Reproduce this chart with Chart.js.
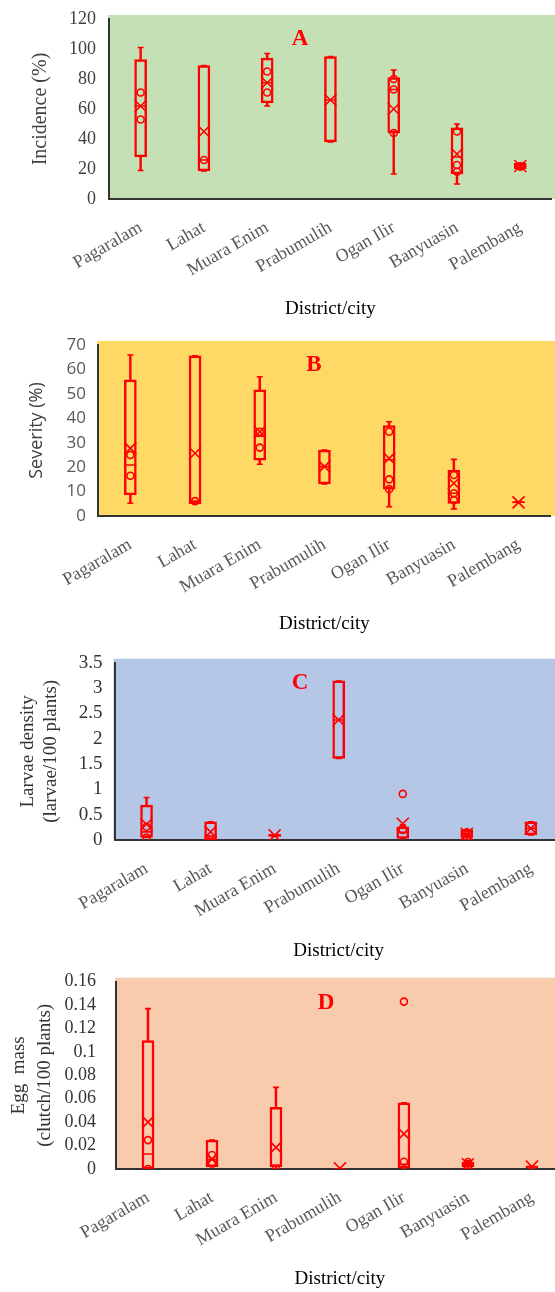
<!DOCTYPE html>
<html><head><meta charset="utf-8">
<script src="https://cdn.jsdelivr.net/npm/chart.js@4"></script>
<style>
html,body{margin:0;padding:0;background:#fff;overflow:hidden;width:555px;height:1292px;position:relative;}
.panel{position:absolute;left:0;}
</style></head><body>
<div class="panel" style="top:0;width:562px;height:320px"><canvas id="cA"></canvas></div>
<div class="panel" style="top:320px;width:561px;height:320px"><canvas id="cB"></canvas></div>
<div class="panel" style="top:640px;width:573px;height:330px"><canvas id="cC"></canvas></div>
<div class="panel" style="top:960px;width:574px;height:332px"><canvas id="cD"></canvas></div>
<script>
const categories = ['Pagaralam','Lahat','Muara Enim','Prabumulih','Ogan Ilir','Banyuasin','Palembang'];

// A: Incidence (%)
const incMin  = [19, 18.7, 62, 38, 16.7, 10, 20];
const incQ1   = [28, 18.7, 64, 38, 44, 16.7, 20];
const incMed  = [62, 26, 77.5, 66, 73, 28, 22];
const incQ3   = [93, 89, 94, 95, 81, 47.5, 24];
const incMax  = [101, 89, 97, 95, 86, 50, 24];
const incMean = [62, 45, 77.5, 66, 60, 30, 22];
const incPts  = [[71, 53], [26], [85, 71], [], [80, 73, 44], [45, 22.7, 18.2], [21.5]];
const incTicks = ['0','20','40','60','80','100','120'];
const incTickVals = [0,20,40,60,80,100,120];

// B: Severity (%)
const sevMin  = [5.2, 5.0, 21.2, 13.1, 3.8, 2.9, 5.6];
const sevQ1   = [8.6, 5.0, 22.9, 13.1, 11, 5.2, 5.4];
const sevMed  = [20.9, 6.1, 32.7, 20.2, 23, 9.3, 5.6];
const sevQ3   = [55.7, 65.6, 51.6, 27, 37, 18.8, 5.9];
const sevMax  = [65.9, 65.6, 57, 27, 38.6, 23.2, 5.9];
const sevMean = [27.7, 25.7, 34.5, 20.2, 23.6, 13.4, 5.6];
const sevPts  = [[25, 16.5], [6.1], [34.5, 28], [], [34.5, 15, 11], [16.8, 9.3, 6.5], []];
const sevTicks = ['0','10','20','30','40','50','60','70'];
const sevTickVals = [0,10,20,30,40,50,60,70];

// C: Larvae density (larvae/100 plants)
const larMin  = [0.05, 0, 0.07, 1.61, 0.03, 0, 0.1];
const larQ1   = [0.05, 0, 0.07, 1.61, 0.03, 0.05, 0.1];
const larMed  = [0.16, 0.08, 0.09, 2.37, 0.15, 0.12, 0.23];
const larQ3   = [0.69, 0.36, 0.11, 3.14, 0.26, 0.2, 0.36];
const larMax  = [0.84, 0.36, 0.11, 3.14, 0.3, 0.2, 0.36];
const larMean = [0.31, 0.16, 0.09, 2.37, 0.32, 0.12, 0.23];
const larPts  = [[0.26, 0.05], [0], [], [], [0.91, 0.2], [0.15, 0], []];
const larTicks = ['0','0.5','1','1.5','2','2.5','3','3.5'];
const larTickVals = [0,0.5,1,1.5,2,2.5,3,3.5];

// D: Egg mass (clutch/100 plants)
const eggMin  = [0, 0.002, 0, 0, 0, 0, 0];
const eggQ1   = [0, 0.002, 0.002, 0, 0.001, 0.002, 0.001];
const eggMed  = [0.0128, 0.008, 0.003, 0, 0.004, 0.004, 0.002];
const eggQ3   = [0.1097, 0.0247, 0.0526, 0, 0.0565, 0.006, 0.002];
const eggMax  = [0.137, 0.0247, 0.0697, 0, 0.0565, 0.007, 0.002];
const eggMean = [0.040, 0.0085, 0.0185, 0.0005, 0.030, 0.004, 0.002];
const eggPts  = [[0.0247, 0], [0.012, 0.005], [0], [], [0.143, 0.0062], [0.006, 0.003], []];
const eggTicks = ['0','0.02','0.04','0.06','0.08','0.1','0.12','0.14','0.16'];
const eggTickVals = [0,0.02,0.04,0.06,0.08,0.1,0.12,0.14,0.16];

const RED = '#ff0000';
const SERIF = '"Liberation Serif", "Times New Roman", serif';
const SANS = '"Open Sans", "Liberation Sans", sans-serif';

const panelDeco = {
  id: 'panelDeco',
  beforeDraw(chart, args, o) {
    const {ctx, chartArea: a} = chart;
    ctx.save();
    ctx.fillStyle = o.bg;
    ctx.fillRect(a.left - 1, a.top - o.extraTop, chart.width - a.left + 1, a.bottom - a.top + o.extraTop);
    ctx.restore();
  },
  afterDraw(chart, args, o) {
    const {ctx} = chart;
    ctx.save();
    ctx.fillStyle = RED;
    ctx.font = 'bold 23px ' + SERIF;
    ctx.textAlign = 'center';
    ctx.textBaseline = 'middle';
    ctx.fillText(o.letter, o.lx, o.ly);
    ctx.restore();
  }
};

function boxDatasets(mn, q1, med, q3, mx, mean, pts) {
  const pt = (data, style, r, extra) => Object.assign({
    type: 'line', data, showLine: false, pointStyle: style, pointRadius: r,
    pointBorderColor: RED, borderColor: RED, pointBackgroundColor: 'rgba(0,0,0,0)',
    pointBorderWidth: 1.6, order: 0
  }, extra || {});
  return [
    {type: 'bar', data: q1.map((v, i) => [mn[i], v]), backgroundColor: RED, borderWidth: 0,
     barThickness: 1.8, grouped: false, order: 2},
    {type: 'bar', data: q3.map((v, i) => [v, mx[i]]), backgroundColor: RED, borderWidth: 0,
     barThickness: 1.8, grouped: false, order: 2},
    {type: 'bar', data: q1.map((v, i) => [v, q3[i]]), backgroundColor: 'rgba(0,0,0,0)',
     borderColor: RED, borderWidth: 1.8, borderSkipped: false, barThickness: 12, grouped: false, order: 1},
    pt(mx, 'line', 3),
    pt(mn, 'line', 3),
    pt(med, 'line', 6),
    pt(mean, 'crossRot', 8.5),
    pt(pts.flatMap((arr, i) => arr.map(y => ({x: categories[i], y}))), 'circle', 3.5)
  ];
}

function makeChart(id, p) {
  return new Chart(document.getElementById(id), {
    type: 'bar',
    data: {labels: categories, datasets: boxDatasets(...p.series)},
    plugins: [panelDeco],
    options: {
      responsive: true, maintainAspectRatio: false, animation: false, events: [],
      layout: {padding: {top: p.padTop, right: p.padRight, left: 0, bottom: 0}},
      plugins: {legend: {display: false}, tooltip: {enabled: false},
        panelDeco: {bg: p.bg, extraTop: 4, letter: p.letter, lx: p.lx, ly: p.ly}},
      scales: {
        x: {
          type: 'category', offset: true,
          grid: {display: false, drawTicks: false},
          border: {display: true, color: '#333333', width: 2},
          ticks: {autoSkip: false, minRotation: 30, maxRotation: 30, padding: p.xPad,
                  color: '#595959', font: {family: SERIF, size: 18}},
          title: {display: true, text: 'District/city', color: '#000',
                  font: {family: SERIF, size: 19}, padding: {top: 0, bottom: p.xTitlePad}},
          afterFit: s => { s.height = p.xH; s.paddingLeft = 0; s.paddingRight = 0; }
        },
        y: {
          type: 'linear', min: p.tickVals[0], max: p.tickVals[p.tickVals.length - 1],
          afterBuildTicks: s => { s.ticks = p.tickVals.map(v => ({value: v})); },
          grid: {display: false, drawTicks: false},
          border: {display: true, color: '#333333', width: 2},
          ticks: {autoSkip: false, padding: p.yPad, color: p.yTickColor, font: p.yTickFont,
                  callback: (v, i) => p.tickLabels[i]},
          title: {display: true, text: p.yTitle, color: p.yTitleColor, font: p.yTitleFont,
                  padding: {top: p.yTitlePad, bottom: 0}},
          afterFit: s => { s.width = p.yW; s.paddingTop = 0; s.paddingBottom = 0; }
        }
      }
    }
  });
}

makeChart('cA', {
  series: [incMin, incQ1, incMed, incQ3, incMax, incMean, incPts],
  tickVals: incTickVals, tickLabels: incTicks,
  bg: '#c5e0b4', letter: 'A', lx: 300, ly: 39,
  padTop: 19, padRight: 3.4, xH: 121, yW: 109, xPad: 18, xTitlePad: 0,
  yPad: 13, yTickColor: '#404040', yTickFont: {family: SERIF, size: 18},
  yTitle: 'Incidence (%)', yTitleColor: '#404040', yTitleFont: {family: SERIF, size: 20},
  yTitlePad: 29
});
makeChart('cB', {
  series: [sevMin, sevQ1, sevMed, sevQ3, sevMax, sevMean, sevPts],
  tickVals: sevTickVals, tickLabels: sevTicks,
  bg: '#ffd966', letter: 'B', lx: 314, ly: 45,
  padTop: 25, padRight: 3.5, xH: 124, yW: 98, xPad: 18, xTitlePad: 5,
  yPad: 12, yTickColor: '#595959', yTickFont: {family: SANS, size: 17},
  yTitle: 'Severity (%)', yTitleColor: '#404040', yTitleFont: {family: SANS, size: 18},
  yTitlePad: 26.5
});
makeChart('cC', {
  series: [larMin, larQ1, larMed, larQ3, larMax, larMean, larPts],
  tickVals: larTickVals, tickLabels: larTicks,
  bg: '#b4c7e7', letter: 'C', lx: 300, ly: 43,
  padTop: 22.7, padRight: 2.5, xH: 130, yW: 114.5, xPad: 18, xTitlePad: 8,
  yPad: 12, yTickColor: '#333333', yTickFont: {family: SERIF, size: 19},
  yTitle: ['Larvae density', '(larvae/100 plants)'], yTitleColor: '#333333',
  yTitleFont: {family: SERIF, size: 19, lineHeight: 1.2}, yTitlePad: 16.6
});
makeChart('cD', {
  series: [eggMin, eggQ1, eggMed, eggQ3, eggMax, eggMean, eggPts],
  tickVals: eggTickVals, tickLabels: eggTicks,
  bg: '#f8cbad', letter: 'D', lx: 326, ly: 43,
  padTop: 21.7, padRight: 1.6, xH: 123, yW: 116, xPad: 18, xTitlePad: 2,
  yPad: 20, yTickColor: '#333333', yTickFont: {family: SERIF, size: 18},
  yTitle: ['Egg  mass', '(clutch/100 plants)'], yTitleColor: '#333333',
  yTitleFont: {family: SERIF, size: 19, lineHeight: 1.35}, yTitlePad: 6.5
});
</script>
</body></html>
